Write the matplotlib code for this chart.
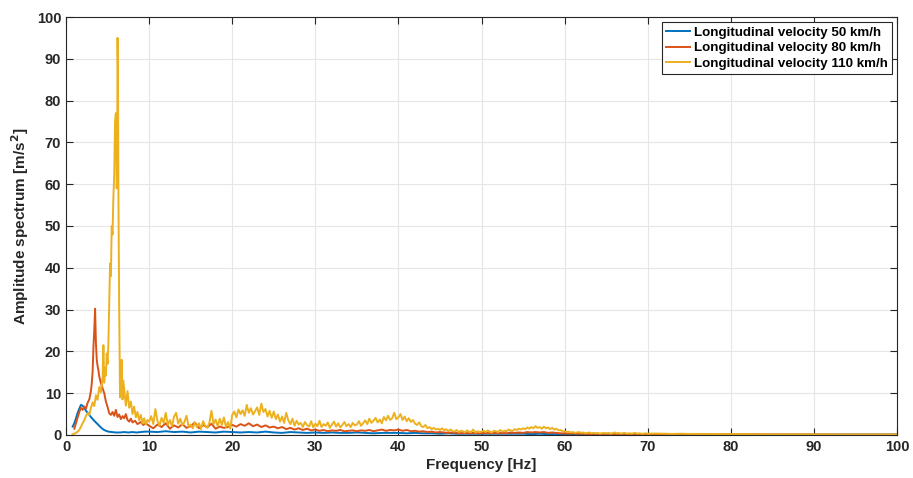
import matplotlib
matplotlib.use('Agg')
import matplotlib.pyplot as plt
import numpy as np

# ---- data ----
# 50 km/h
f50_low = [0.8, 1.0, 1.2, 1.4, 1.6, 1.8, 2.0, 2.2, 2.4, 2.6, 2.8, 3.0, 3.3, 3.6,
           3.9, 4.2, 4.5, 4.8, 5.1, 5.5, 6.0, 6.5, 7.0, 7.5, 8.0, 8.5, 9.0, 9.5]
a50_low = [2.0, 2.8, 4.0, 5.3, 6.3, 7.2, 7.0, 6.5, 5.8, 5.3, 4.8, 4.3, 3.6, 3.0,
           2.4, 1.8, 1.3, 1.0, 0.8, 0.7, 0.6, 0.6, 0.7, 0.6, 0.7, 0.6, 0.7, 0.8]
# 10..100 Hz, 1 Hz step
a50_high = [0.8, 0.7, 0.9, 0.7, 0.8, 0.6, 0.8, 0.7, 0.6, 0.8,
            0.7, 0.6, 0.7, 0.6, 0.8, 0.6, 0.5, 0.7, 0.6, 0.5,
            0.6, 0.5, 0.6, 0.5, 0.5, 0.6, 0.5, 0.4, 0.5, 0.5,
            0.5, 0.4, 0.5, 0.4, 0.4, 0.3, 0.4, 0.3, 0.3, 0.3,
            0.3, 0.3, 0.3, 0.3, 0.3, 0.3, 0.2, 0.3, 0.2, 0.2,
            0.2, 0.2, 0.2, 0.2, 0.2, 0.2, 0.2, 0.2, 0.2, 0.2,
            0.15, 0.15, 0.15, 0.15, 0.15, 0.15, 0.15, 0.15, 0.15, 0.15,
            0.1, 0.1, 0.1, 0.1, 0.1, 0.1, 0.1, 0.1, 0.1, 0.1,
            0.1, 0.1, 0.1, 0.1, 0.1, 0.1, 0.1, 0.1, 0.1, 0.1, 0.1]

# 80 km/h
f80_low = [1.0, 1.2, 1.4, 1.6, 1.8, 2.0, 2.2, 2.4, 2.6, 2.8, 3.0, 3.1, 3.2, 3.3,
           3.4, 3.5, 3.6, 3.7, 3.8, 3.9, 4.0, 4.2, 4.4, 4.6, 4.8, 5.0, 5.2, 5.4,
           5.6, 5.8, 6.0, 6.2, 6.4, 6.6, 6.8, 7.0, 7.2, 7.4, 7.6, 7.8, 8.0, 8.3,
           8.6, 9.0, 9.3, 9.6]
a80_low = [1.5, 2.8, 4.2, 5.5, 6.5, 6.0, 6.8, 6.3, 7.7, 8.5, 10.5, 12.4, 15.0, 21.0,
           25.0, 30.2, 22.0, 18.0, 16.5, 15.5, 14.0, 12.4, 11.2, 10.0, 8.0, 6.7, 5.2, 4.8,
           5.5, 4.6, 6.0, 4.3, 4.9, 3.8, 4.5, 4.0, 5.0, 3.6, 3.2, 3.9, 3.0, 3.4,
           2.6, 3.1, 2.4, 2.8]
# 10..69.5 Hz, 0.5 Hz step
a80_mid = [2.2, 1.6, 2.5, 1.9, 2.8, 1.5, 2.3, 1.8, 2.6, 1.7,
           2.1, 3.0, 1.6, 2.4, 1.8, 2.7, 1.5, 2.0, 1.7, 1.9,
           2.4, 2.0, 2.6, 2.2, 2.8, 2.1, 2.5, 1.9, 2.3, 1.8,
           2.0, 1.6, 1.9, 1.4, 1.7, 1.3, 1.6, 1.2, 1.5, 1.1,
           1.3, 1.0, 1.2, 0.9, 1.1, 1.0, 1.2, 0.9, 1.0, 1.1,
           0.9, 1.1, 1.0, 1.2, 0.9, 1.1, 1.3, 1.0, 1.2, 1.1,
           1.3, 1.0, 1.2, 0.9, 1.0, 0.8, 0.9, 0.7, 0.8, 0.6,
           0.7, 0.6, 0.5, 0.6, 0.5, 0.4, 0.5, 0.4, 0.5, 0.4,
           0.4, 0.5, 0.4, 0.5, 0.4, 0.5, 0.4, 0.6, 0.5, 0.6,
           0.5, 0.7, 0.6, 0.7, 0.6, 0.7, 0.5, 0.6, 0.5, 0.4,
           0.4, 0.3, 0.4, 0.3, 0.3, 0.3, 0.2, 0.3, 0.2, 0.3,
           0.2, 0.3, 0.2, 0.2, 0.3, 0.2, 0.2, 0.2, 0.2, 0.2]
# 70..100 Hz, 1 Hz step
a80_tail = [0.2, 0.2, 0.2, 0.2, 0.2, 0.15, 0.15, 0.15, 0.15, 0.15,
            0.15, 0.15, 0.15, 0.15, 0.15, 0.1, 0.1, 0.1, 0.1, 0.1,
            0.1, 0.1, 0.1, 0.1, 0.1, 0.1, 0.1, 0.1, 0.1, 0.1, 0.1]

# 110 km/h
f110_low = [0.8, 1.0, 1.2, 1.4, 1.6, 1.8, 2.0, 2.2, 2.4, 2.6, 2.8, 3.0, 3.2, 3.4,
            3.6, 3.8, 4.0, 4.2, 4.4, 4.5, 4.6, 4.7, 4.8, 4.9, 5.0, 5.1, 5.2, 5.3,
            5.4, 5.5, 5.6, 5.7, 5.8, 5.9, 6.0, 6.05, 6.1, 6.15, 6.2, 6.25, 6.3, 6.4,
            6.5, 6.6, 6.7, 6.8, 6.9, 7.0, 7.2, 7.4, 7.6, 7.8, 8.0, 8.2, 8.4, 8.6,
            8.8, 9.0, 9.2, 9.4, 9.6, 9.8]
a110_low = [0.2, 0.3, 0.5, 0.8, 1.2, 2.0, 2.8, 3.5, 4.6, 5.2, 4.8, 6.5, 7.8, 6.9,
            9.5, 8.4, 11.5, 10.2, 13.8, 21.5, 12.5, 16.0, 14.2, 19.5, 17.0, 22.0, 32.0, 41.0,
            38.0, 50.0, 48.0, 57.0, 62.0, 75.0, 77.0, 70.0, 59.0, 62.0, 95.0, 88.0, 60.0, 30.0,
            9.0, 12.0, 18.0, 8.5, 13.0, 11.0, 7.0, 10.5, 6.5, 8.0, 5.0, 6.8, 4.2, 5.5,
            3.5, 4.8, 2.8, 4.0, 2.5, 3.6]
# 10..69.75 Hz, 0.25 Hz step (one row = 5 Hz)
a110_mid = [3.2, 4.5, 2.6, 6.2, 3.4, 2.2, 4.1, 2.9, 5.3, 2.4, 3.6, 2.1, 4.4, 5.3, 2.7, 3.9, 2.3, 3.1, 4.6, 2.0,
            2.5, 1.6, 3.0, 1.9, 2.8, 1.4, 3.3, 2.2, 1.8, 2.9, 5.8, 2.6, 3.7, 2.1, 3.9, 2.4, 4.2, 1.9, 3.1, 1.5,
            4.8, 5.6, 4.2, 6.1, 5.0, 5.9, 4.6, 7.2, 5.3, 6.4, 4.9, 5.7, 6.6, 4.8, 7.5, 5.5, 6.2, 4.4, 5.8, 4.1,
            5.6, 3.8, 4.9, 3.2, 4.4, 2.9, 5.3, 3.5, 2.6, 3.9, 2.2, 3.4, 2.5, 2.9, 1.9, 3.1, 2.4, 2.0, 3.3, 1.8,
            2.7, 2.1, 3.4, 1.9, 2.6, 2.2, 3.0, 1.7, 2.5, 3.2, 2.0, 2.8, 1.8, 2.4, 3.1, 2.1, 2.6, 1.9, 2.9, 2.3,
            2.5, 3.3, 2.2, 2.8, 3.5, 2.6, 3.9, 2.9, 3.4, 4.1, 3.0, 3.7, 2.8, 4.3, 3.5, 4.6, 3.6, 4.0, 5.3, 3.8,
            4.2, 5.0, 3.6, 4.4, 3.3, 4.0, 3.1, 3.6, 2.7, 2.4, 3.0, 2.1, 1.9, 2.4, 1.6, 1.9, 1.4, 1.7, 1.3, 1.5,
            1.2, 1.6, 1.1, 1.4, 0.9, 1.3, 1.0, 0.8, 1.2, 0.7, 1.0, 0.9, 0.6, 1.1, 0.8, 0.7, 1.3, 0.6, 0.9, 0.7,
            0.8, 1.0, 0.7, 1.1, 0.8, 0.6, 1.0, 0.9, 0.7, 1.2, 0.8, 1.0, 0.9, 1.3, 1.1, 1.0, 1.4, 1.2, 1.5, 1.3,
            1.6, 1.4, 1.8, 1.5, 1.9, 1.6, 2.1, 1.7, 1.9, 1.5, 2.0, 1.6, 1.8, 1.4, 1.7, 1.3, 1.5, 1.1, 1.2, 0.9,
            0.9, 0.7, 0.8, 0.6, 0.7, 0.5, 0.6, 0.7, 0.5, 0.6, 0.4, 0.5, 0.6, 0.4, 0.5, 0.4, 0.5, 0.3, 0.4, 0.5,
            0.4, 0.5, 0.3, 0.4, 0.6, 0.4, 0.5, 0.3, 0.4, 0.5, 0.3, 0.4, 0.3, 0.4, 0.5, 0.3, 0.4, 0.3, 0.3, 0.4]
# 70..100 Hz, 1 Hz step
a110_tail = [0.3, 0.35, 0.3, 0.25, 0.3, 0.25, 0.25, 0.2, 0.25, 0.2,
             0.2, 0.2, 0.2, 0.15, 0.2, 0.15, 0.15, 0.15, 0.15, 0.15,
             0.15, 0.1, 0.15, 0.1, 0.1, 0.1, 0.1, 0.1, 0.1, 0.1, 0.1]

labels = ['Longitudinal velocity 50 km/h',
          'Longitudinal velocity 80 km/h',
          'Longitudinal velocity 110 km/h']
colors = ['#0072BD', '#D95319', '#EDB120']


def grid(start, step, values):
    return start + step * np.arange(len(values))


f50 = np.concatenate([f50_low, grid(10, 1.0, a50_high)])
a50 = np.concatenate([a50_low, a50_high])
f80 = np.concatenate([f80_low, grid(10, 0.5, a80_mid), grid(70, 1.0, a80_tail)])
a80 = np.concatenate([a80_low, a80_mid, a80_tail])
f110 = np.concatenate([f110_low, grid(10, 0.25, a110_mid), grid(70, 1.0, a110_tail)])
a110 = np.concatenate([a110_low, a110_mid, a110_tail])

plt.rcParams['font.family'] = ['Liberation Sans', 'DejaVu Sans']
plt.rcParams['font.weight'] = 'bold'
plt.rcParams['mathtext.default'] = 'bf'

fig = plt.figure(figsize=(9.13, 4.78), dpi=100)
ax = fig.add_axes([0.0723, 0.09, 0.9102, 0.8744])

for f, a, lab, c in zip([f50, f80, f110], [a50, a80, a110], labels, colors):
    ax.plot(f, a, color=c, lw=1.4, label=lab)

ax.set_xlim(0, 100)
ax.set_ylim(0, 100)
ax.set_xticks(np.arange(0, 101, 10))
ax.set_yticks(np.arange(0, 101, 10))
ax.grid(True, color='#e6e6e6', lw=0.8)
ax.set_axisbelow(True)
ax.tick_params(direction='in', top=True, right=True, length=5, width=0.8,
               colors='#262626', labelsize=10.5, labelcolor='#262626')
for s in ax.spines.values():
    s.set_color('#262626')
    s.set_linewidth(0.8)

ax.set_xlabel('Frequency [Hz]', fontsize=11, fontweight='bold', color='#262626', labelpad=3)
ax.set_ylabel(r'Amplitude spectrum [m/s$^2$]', fontsize=11, fontweight='bold',
              color='#262626', labelpad=4)

leg = ax.legend(loc='upper right', fontsize=9.6, frameon=True, fancybox=False,
                framealpha=1, edgecolor='#262626', handlelength=1.8,
                handletextpad=0.3, borderpad=0.3, labelspacing=0.25,
                borderaxespad=0.4)
leg.get_frame().set_linewidth(0.8)
for t in leg.get_texts():
    t.set_fontweight('bold')

fig.savefig('out.png', dpi=100)
